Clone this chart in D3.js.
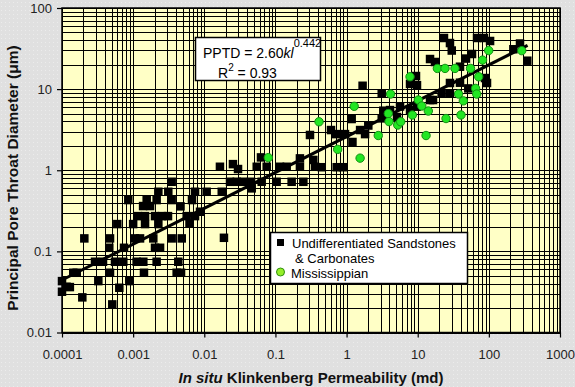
<!DOCTYPE html>
<html>
<head>
<meta charset="utf-8">
<script src="https://cdn.jsdelivr.net/npm/d3@7/dist/d3.min.js"></script>
<style>
  html, body { margin: 0; padding: 0; background: #e2e2e2; }
  svg { display: block; font-family: "Liberation Sans", Arial, sans-serif; }
</style>
</head>
<body>
<div id="chart"></div>
<script>
// permeability (md) vs pore throat diameter (um)
const sandstonePoints = [
  [0.0001, 0.043], [0.000116, 0.0366], [0.000129, 0.0363], [0.0001, 0.0318], [0.000144, 0.0545],
  [0.000161, 0.0545], [0.000193, 0.0271], [0.000206, 0.1445], [0.000291, 0.0745], [0.000377, 0.0745],
  [0.000324, 0.043], [0.000462, 0.1107], [0.000473, 0.1445], [0.000473, 0.0545], [0.000509, 0.0222],
  [0.000556, 0.0745], [0.000599, 0.217], [0.000639, 0.0356], [0.000727, 0.0745], [0.000744, 0.1107],
  [0.000855, 0.429], [0.000883, 0.043], [0.001, 0.217], [0.00106, 0.1445], [0.00112, 0.0745],
  [0.00117, 0.272], [0.00125, 0.1445], [0.00138, 0.362], [0.00139, 0.0745], [0.00142, 0.0545],
  [0.00147, 0.272], [0.00147, 0.217], [0.00155, 0.429], [0.00173, 0.362], [0.00192, 0.1445],
  [0.00203, 0.272], [0.00203, 0.1107], [0.00214, 0.429], [0.00214, 0.0745], [0.00226, 0.543],
  [0.00226, 0.217], [0.00239, 0.1107], [0.00255, 0.272], [0.00309, 0.272], [0.00312, 0.543],
  [0.00348, 0.721], [0.00348, 0.429], [0.00348, 0.1445], [0.00409, 0.0545], [0.00431, 0.0745],
  [0.00463, 0.359], [0.00471, 0.0545], [0.00482, 0.1445], [0.00566, 0.272], [0.0062, 0.22],
  [0.00672, 0.429], [0.00741, 0.272], [0.00741, 0.543], [0.00871, 0.308], [0.0108, 0.543],
  [0.0166, 1.104], [0.0176, 0.543], [0.0189, 0.147], [0.023, 0.721], [0.0286, 0.721],
  [0.035, 0.721], [0.0253, 1.19], [0.0298, 1.035], [0.0454, 0.721], [0.0464, 0.598],
  [0.0546, 1.104], [0.0627, 1.44], [0.0754, 1.104], [0.0641, 0.721], [0.104, 0.721],
  [0.116, 1.104], [0.144, 1.104], [0.169, 0.721], [0.221, 1.40], [0.221, 1.104],
  [0.247, 0.721], [0.306, 2.72], [0.341, 1.34], [0.36, 1.104], [0.448, 1.09],
  [0.727, 1.09], [0.891, 1.09], [0.604, 3.13], [0.711, 2.79], [0.95, 2.79],
  [1.18, 4.28], [1.21, 2.23], [1.55, 3.13], [1.82, 2.79], [2.02, 3.56],
  [1.68, 11.0], [3.12, 8.78], [3.28, 5.42], [3.12, 4.36], [4.08, 5.52],
  [5.64, 6.1], [5.12, 4.53], [7.8, 5.52], [9.68, 6.07], [7.8, 11.6],
  [9.77, 11.2], [9.46, 14.5], [14.9, 23.5], [17.5, 21.6], [14.9, 7.34],
  [16.4, 7.34], [21.7, 8.88], [28.4, 8.88], [23.4, 42.7], [28.4, 37],
  [30.1, 29.9], [28.4, 11.9], [39.3, 12.0], [47.7, 23.8], [51.4, 10.2],
  [58, 27.1], [88.3, 13.7], [94.2, 11.9], [68.2, 42.7], [85.5, 42.7],
  [104, 39.2], [39.3, 18.9], [221, 31], [274, 36.5], [347, 22.4]
];

const mississippianPoints = [
  [0.0794, 1.43], [0.41, 3.96], [0.75, 1.81], [1.55, 1.41], [1.28, 6.14],
  [2.79, 2.68], [3.86, 5.0], [3.95, 3.98], [5.24, 3.61], [5.77, 3.96],
  [4.15, 8.7], [7.8, 14.2], [8.4, 4.8], [10.2, 7.34], [11.4, 6.19],
  [14.1, 5.37], [13.1, 2.68], [18.9, 18.0], [24.2, 18.0], [33.4, 18.0],
  [55.2, 18.0], [25, 4.34], [37.5, 8.7], [40.6, 4.8], [43.8, 7.17],
  [65, 10.2], [67.5, 8.7], [72, 14.2], [81.5, 22.8], [99.5, 29.9],
  [290, 29.8]
];

const seriesNames = ["Undifferentiated Sandstones", "& Carbonates", "Mississippian"];

const xMajorTicks = [0.0001, 0.001, 0.01, 0.1, 1, 10, 100, 1000];
const xTickLabels = ["0.0001", "0.001", "0.01", "0.1", "1", "10", "100", "1000"];
const yMajorTicks = [0.01, 0.1, 1, 10, 100];
const yTickLabels = ["0.01", "0.1", "1", "10", "100"];

// PPTD = 2.60 kl^0.442
const fitCoef = 2.60;
const fitExp = 0.442;
const fitRange = [0.0001, 350];

const width = 575, height = 387;
const margin = { top: 8, right: 15, bottom: 54.5, left: 62 };

const svg = d3.select("#chart").append("svg")
  .attr("width", width)
  .attr("height", height);

// dotted grey background
const defs = svg.append("defs");
const pat = defs.append("pattern")
  .attr("id", "dots")
  .attr("width", 4).attr("height", 4)
  .attr("patternUnits", "userSpaceOnUse");
pat.append("rect").attr("width", 4).attr("height", 4).attr("fill", "#e0e0e0");
pat.append("rect").attr("x", 1).attr("y", 2).attr("width", 1).attr("height", 1).attr("fill", "#ececec");
svg.append("rect").attr("width", width).attr("height", height).attr("fill", "url(#dots)");

const x = d3.scaleLog()
  .domain([0.0001, 1000])
  .range([margin.left, width - margin.right]);
const y = d3.scaleLog()
  .domain([0.01, 100])
  .range([height - margin.bottom, margin.top]);

const plotW = x.range()[1] - x.range()[0];
const plotH = y.range()[0] - y.range()[1];

svg.append("rect")
  .attr("x", margin.left).attr("y", margin.top)
  .attr("width", plotW).attr("height", plotH)
  .attr("fill", "#ffffc6");

// log grid, every 1..9 in each decade
const grid = svg.append("g").attr("stroke", "#000").attr("stroke-width", 1).attr("shape-rendering", "crispEdges");
grid.selectAll("line.vx")
  .data(x.ticks())
  .enter().append("line")
  .attr("class", "vx")
  .attr("x1", d => Math.round(x(d)) + 0.5).attr("x2", d => Math.round(x(d)) + 0.5)
  .attr("y1", y.range()[1]).attr("y2", y.range()[0]);
grid.selectAll("line.hy")
  .data(y.ticks())
  .enter().append("line")
  .attr("class", "hy")
  .attr("y1", d => Math.round(y(d)) + 0.5).attr("y2", d => Math.round(y(d)) + 0.5)
  .attr("x1", x.range()[0]).attr("x2", x.range()[1]);

svg.append("rect")
  .attr("x", margin.left).attr("y", margin.top)
  .attr("width", plotW).attr("height", plotH)
  .attr("fill", "none").attr("stroke", "#000").attr("stroke-width", 1.5);

// axes
const xAxis = svg.append("g")
  .attr("transform", "translate(0," + y.range()[0] + ")")
  .call(d3.axisBottom(x).tickValues(xMajorTicks).tickSize(5).tickPadding(12)
    .tickFormat((d, i) => xTickLabels[i]));
const yAxis = svg.append("g")
  .attr("transform", "translate(" + margin.left + ",0)")
  .call(d3.axisLeft(y).tickValues(yMajorTicks).tickSize(5).tickPadding(5)
    .tickFormat((d, i) => yTickLabels[i]));
[xAxis, yAxis].forEach(a => {
  a.select(".domain").remove();
  a.selectAll("line").attr("stroke", "#000").attr("stroke-width", 1.2);
  a.selectAll("text").attr("font-size", 13).attr("fill", "#222")
    .attr("font-family", "'Liberation Sans', Arial, sans-serif");
});

// regression line
const fitLine = d3.line()
  .x(d => x(d))
  .y(d => y(fitCoef * Math.pow(d, fitExp)));
svg.append("path")
  .datum(fitRange)
  .attr("d", fitLine)
  .attr("fill", "none")
  .attr("stroke", "#000")
  .attr("stroke-width", 3);

// points
const sq = 8.5;
svg.append("g").selectAll("rect")
  .data(sandstonePoints)
  .enter().append("rect")
  .attr("x", d => x(d[0]) - sq / 2)
  .attr("y", d => y(d[1]) - sq / 2)
  .attr("width", sq).attr("height", sq)
  .attr("fill", "#000");

svg.append("g").selectAll("circle")
  .data(mississippianPoints)
  .enter().append("circle")
  .attr("cx", d => x(d[0]))
  .attr("cy", d => y(d[1]))
  .attr("r", 4.2)
  .attr("fill", "#22e622")
  .attr("stroke", "#138f13")
  .attr("stroke-width", 1);

// equation box
const eq = svg.append("g");
eq.append("rect")
  .attr("x", 195.5).attr("y", 37.5).attr("width", 125).attr("height", 43)
  .attr("fill", "#fff").attr("stroke", "#000").attr("stroke-width", 1.5);
const eqText = eq.append("text")
  .attr("x", 203).attr("y", 58)
  .attr("font-size", 14).attr("fill", "#000");
eqText.append("tspan").text("PPTD = 2.60");
eqText.append("tspan").attr("font-style", "italic").text("kl");
eqText.append("tspan").attr("font-size", 11).attr("dy", -11).text(fitExp.toFixed(3));
const r2 = eq.append("text")
  .attr("x", 218).attr("y", 78)
  .attr("font-size", 14).attr("fill", "#000");
r2.append("tspan").text("R");
r2.append("tspan").attr("font-size", 10).attr("dy", -7).text("2");
r2.append("tspan").attr("dy", 7).text(" = 0.93");

// legend
const lg = svg.append("g");
lg.append("rect")
  .attr("x", 270.5).attr("y", 232.5).attr("width", 197).attr("height", 51)
  .attr("fill", "#fff").attr("stroke", "#000").attr("stroke-width", 1.5);
lg.append("rect").attr("x", 277).attr("y", 239).attr("width", 7).attr("height", 7).attr("fill", "#000");
lg.append("circle").attr("cx", 280.5).attr("cy", 272).attr("r", 4)
  .attr("fill", "#95ee2a").attr("stroke", "#2f8f10").attr("stroke-width", 1);
lg.selectAll("text.lbl")
  .data(seriesNames)
  .enter().append("text")
  .attr("class", "lbl")
  .attr("x", (d, i) => [292, 295, 291][i])
  .attr("y", (d, i) => [248, 263, 277.5][i])
  .attr("font-size", 13)
  .attr("fill", "#000")
  .text(d => d);

// axis titles
const xt = svg.append("text")
  .attr("x", 311).attr("y", 383)
  .attr("text-anchor", "middle")
  .attr("font-size", 15).attr("font-weight", "bold").attr("fill", "#111");
xt.append("tspan").attr("font-style", "italic").text("In situ");
xt.append("tspan").text(" Klinkenberg Permeability (md)");

svg.append("text")
  .attr("transform", "translate(18," + 178 + ") rotate(-90)")
  .attr("text-anchor", "middle")
  .attr("font-size", 15.5).attr("font-weight", "bold").attr("fill", "#111")
  .text("Principal Pore Throat Diameter (\u03bcm)");
</script>
</body>
</html>
